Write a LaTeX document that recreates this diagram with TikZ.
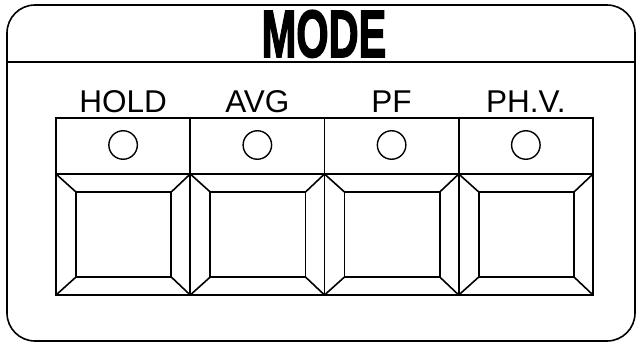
\documentclass[tikz,border=0pt]{standalone}
\usepackage{fontspec}
\setmainfont{Liberation Sans}
\newfontfamily\modefont[FakeBold=2.5]{Liberation Sans Bold}
\begin{document}
\begin{tikzpicture}[x=1pt,y=-1pt,line join=miter,
  ln/.style={draw=black,line width=1.6pt},
  lbl/.style={anchor=base,inner sep=0pt,font=\fontsize{31.5}{31.5}\selectfont},
  led/.style={circle,draw=black,line width=1.4pt,minimum size=28.5pt,inner sep=0pt}]
\useasboundingbox (0,0) rectangle (637,343);
\draw[ln,rounded corners=28pt] (7,5) rectangle (635,341);
\draw[ln] (7,62) -- (635,62);
\node[anchor=base,inner sep=0pt] (mode) at (324,57) {\scalebox{0.62}[1]{\fontsize{67}{67}\modefont MODE}};
\foreach \i/\t in {0/HOLD,1/AVG,2/PF,3/PH.V.}{
  \pgfmathsetmacro{\xl}{56+134.25*\i}
  \pgfmathsetmacro{\xr}{\xl+134.25}
  \pgfmathsetmacro{\xc}{\xl+67.1}
  \node[lbl] (l\i) at (\xc,112) {\t};
  \draw[ln] (\xl,118) rectangle (\xr,174);
  \node[led] (c\i) at (\xc,145) {};
  \draw[ln] (\xl,174) rectangle (\xr,295);
  \draw[ln] (\xl+20,192) rectangle (\xr-19,277);
  \draw[ln] (\xl,174) -- (\xl+20,192);
  \draw[ln] (\xr,174) -- (\xr-19,192);
  \draw[ln] (\xl,295) -- (\xl+20,277);
  \draw[ln] (\xr,295) -- (\xr-19,277);
}
\end{tikzpicture}
\end{document}
